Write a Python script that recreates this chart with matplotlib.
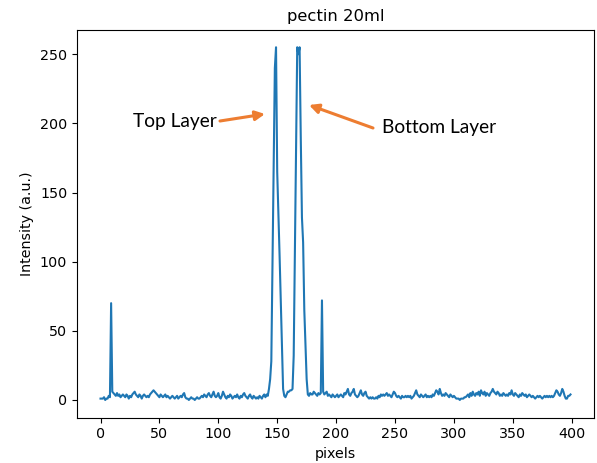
import matplotlib
matplotlib.use("Agg")
import matplotlib.pyplot as plt
import numpy as np

title = "pectin 20ml"
x_label = "pixels"
y_label = "Intensity (a.u.)"
x_ticks = [0, 50, 100, 150, 200, 250, 300, 350, 400]
y_ticks = [0, 50, 100, 150, 200, 250]

intensity = [
    1, 1, 1, 2, 0, 1, 1, 3, 2, 70, 6, 5, 4, 3, 5, 3, 4, 2, 3, 4,
    3, 2, 4, 3, 1, 3, 2, 4, 5, 6, 4, 3, 2, 4, 3, 1, 3, 4, 3, 2,
    3, 2, 4, 5, 6, 7, 6, 5, 4, 3, 2, 4, 3, 2, 3, 4, 2, 3, 2, 1,
    2, 3, 2, 1, 2, 3, 1, 2, 3, 2, 4, 5, 2, 1, 1, 0, 1, 2, 1, 1,
    0, 1, 2, 1, 1, 2, 3, 2, 4, 3, 2, 4, 5, 3, 2, 4, 6, 3, 2, 3,
    5, 2, 1, 3, 6, 4, 2, 1, 3, 2, 4, 3, 1, 2, 3, 2, 4, 2, 1, 3,
    2, 4, 5, 3, 2, 1, 3, 4, 2, 1, 3, 2, 1, 2, 1, 3, 2, 1, 3, 4,
    2, 4, 3, 8, 15, 28, 100, 170, 240, 255, 165, 135, 105, 72, 40, 8, 3, 2, 4, 6,
    6, 7, 7, 8, 32, 105, 180, 255, 250, 255, 190, 132, 114, 65, 40, 15, 4, 3, 5, 4,
    4, 6, 5, 4, 3, 5, 4, 5, 72, 6, 4, 5, 6, 3, 4, 3, 2, 4, 3, 2,
    3, 4, 2, 3, 4, 3, 2, 5, 4, 6, 8, 4, 3, 5, 6, 8, 4, 3, 2, 3,
    5, 7, 4, 3, 5, 6, 3, 2, 1, 2, 1, 2, 1, 1, 2, 1, 3, 2, 4, 3,
    4, 3, 4, 5, 3, 4, 3, 2, 4, 6, 5, 3, 2, 3, 2, 1, 3, 2, 2, 3,
    2, 3, 2, 3, 1, 2, 3, 5, 7, 4, 3, 2, 4, 3, 2, 3, 4, 2, 3, 2,
    3, 2, 4, 3, 5, 7, 6, 4, 8, 5, 3, 4, 3, 5, 4, 3, 2, 4, 3, 2,
    3, 2, 1, 1, 1, 0, 1, 1, 1, 2, 2, 3, 4, 2, 5, 3, 6, 4, 3, 5,
    4, 6, 3, 7, 5, 4, 6, 3, 5, 4, 3, 5, 6, 8, 6, 5, 4, 6, 5, 3,
    4, 3, 5, 4, 3, 4, 3, 5, 4, 7, 4, 3, 5, 4, 3, 2, 4, 3, 5, 4,
    3, 4, 2, 3, 4, 3, 2, 3, 2, 1, 2, 3, 2, 3, 2, 1, 2, 3, 2, 3,
    2, 3, 2, 3, 2, 3, 5, 7, 6, 4, 3, 5, 8, 6, 3, 1, 1, 3, 3, 4,
]
pixels = np.arange(len(intensity))

annotations = ["Top Layer", "Bottom Layer"]

fig = plt.figure(figsize=(5.97, 4.63), dpi=100)
ax = fig.add_axes([0.129, 0.098, 0.866, 0.838])
ax.plot(pixels, intensity, color="#1f77b4", lw=1.5)
ax.set_xticks(x_ticks)
ax.set_yticks(y_ticks)
ax.tick_params(labelsize=10.3)
ax.set_title(title, fontsize=11.8)
ax.set_xlabel(x_label, fontsize=10.3)
ax.set_ylabel(y_label, fontsize=10.3)

H = 463
orange = "#ED7D31"
fig.text(133, H - 122, annotations[0], transform=None, fontsize=13.8,
         family=["Lato", "DejaVu Sans"], va="center", ha="left", color="black")
fig.text(382, H - 128, annotations[1], transform=None, fontsize=13.8,
         family=["Lato", "DejaVu Sans"], va="center", ha="left", color="black")
ax.annotate("", xy=(265, H - 114), xytext=(220, H - 121), xycoords="figure pixels",
            textcoords="figure pixels",
            arrowprops=dict(arrowstyle="-|>", color=orange, lw=2.2,
                            mutation_scale=14, shrinkA=0, shrinkB=0))
ax.annotate("", xy=(309, H - 105), xytext=(373, H - 128), xycoords="figure pixels",
            textcoords="figure pixels",
            arrowprops=dict(arrowstyle="-|>", color=orange, lw=2.2,
                            mutation_scale=14, shrinkA=0, shrinkB=0))

fig.savefig("out.png", dpi=100)
